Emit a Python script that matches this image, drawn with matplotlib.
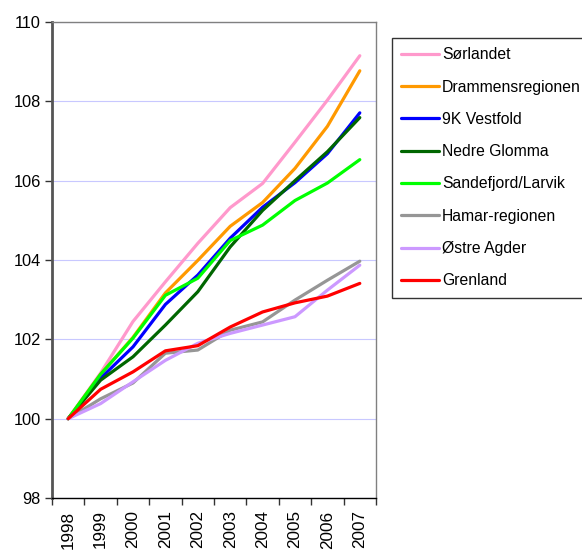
import matplotlib
matplotlib.use("Agg")
import matplotlib.pyplot as plt
from matplotlib.ticker import FixedLocator, NullFormatter

plt.rcParams['font.family'] = ['Liberation Sans', 'DejaVu Sans']

years = ["1998", "1999", "2000", "2001", "2002", "2003", "2004", "2005", "2006", "2007"]

sorlandet = [100, 101.15, 102.45, 103.45, 104.42, 105.32, 105.93, 106.97, 108.03, 109.15]
drammen = [100, 101.12, 102.05, 103.17, 103.99, 104.85, 105.45, 106.31, 107.37, 108.77]
vestfold = [100, 101.02, 101.81, 102.88, 103.62, 104.55, 105.33, 105.95, 106.68, 107.71]
glomma = [100, 100.97, 101.56, 102.36, 103.2, 104.33, 105.25, 106.0, 106.73, 107.59]
sandefjord = [100, 101.12, 102.03, 103.11, 103.54, 104.49, 104.88, 105.5, 105.94, 106.53]
hamar = [100, 100.5, 100.9, 101.65, 101.73, 102.23, 102.44, 102.99, 103.49, 103.97]
ostre = [100, 100.38, 100.93, 101.47, 101.9, 102.15, 102.36, 102.57, 103.24, 103.87]
grenland = [100, 100.74, 101.18, 101.71, 101.84, 102.31, 102.69, 102.92, 103.09, 103.41]

series_names = ["Sørlandet", "Drammensregionen", "9K Vestfold", "Nedre Glomma",
                "Sandefjord/Larvik", "Hamar-regionen", "Østre Agder", "Grenland"]
series_values = [sorlandet, drammen, vestfold, glomma, sandefjord, hamar, ostre, grenland]
colors = ["#ff99cc", "#ff9900", "#0000ff", "#006600", "#00ff00", "#969696", "#cc99ff", "#ff0000"]

yticks = [98, 100, 102, 104, 106, 108, 110]

fig = plt.figure(figsize=(5.82, 5.51), dpi=100)
ax = fig.add_axes([52/582, 1-498/551, (376-52)/582, (498-22)/551])

x = list(range(len(years)))
handles = []
for name, vals, c in zip(series_names, series_values, colors):
    h, = ax.plot(x, vals, color=c, lw=2.3, label=name, solid_capstyle='round', solid_joinstyle='round')
    handles.append(h)

ax.set_xlim(-0.5, len(years) - 0.5)
ax.set_ylim(98, 110)
ax.set_yticks(yticks)
ax.set_yticklabels([str(v) for v in yticks], fontsize=11.8)
ax.yaxis.grid(True, color="#c8c8ff", lw=0.8)
ax.set_axisbelow(True)

ax.set_xticks(x)
ax.set_xticklabels(years, rotation=90, fontsize=12.3)
ax.tick_params(axis='x', which='major', length=0, pad=9)
ax.xaxis.set_minor_locator(FixedLocator([i - 0.5 for i in range(len(years) + 1)]))
ax.xaxis.set_minor_formatter(NullFormatter())
ax.tick_params(axis='x', which='minor', length=5, width=1, color='#333333', direction='out')
ax.tick_params(axis='y', length=5, width=1, color='#333333', direction='out', pad=3)

ax.spines['left'].set_color('#555555')
ax.spines['left'].set_linewidth(2)
ax.spines['bottom'].set_color('#000000')
ax.spines['bottom'].set_linewidth(1)
ax.spines['top'].set_color('#808080')
ax.spines['right'].set_color('#808080')
ax.spines['top'].set_linewidth(1)
ax.spines['right'].set_linewidth(1)

leg = fig.legend(handles=handles, loc='upper left',
                 bbox_to_anchor=(392/582, 1-38/551), fontsize=11.3,
                 frameon=True, fancybox=False, edgecolor='#000000',
                 handlelength=2.4, handletextpad=0.2, labelspacing=1.1,
                 borderpad=0.6, borderaxespad=0)
leg.get_frame().set_linewidth(1)

fig.savefig("out.png", dpi=100)
